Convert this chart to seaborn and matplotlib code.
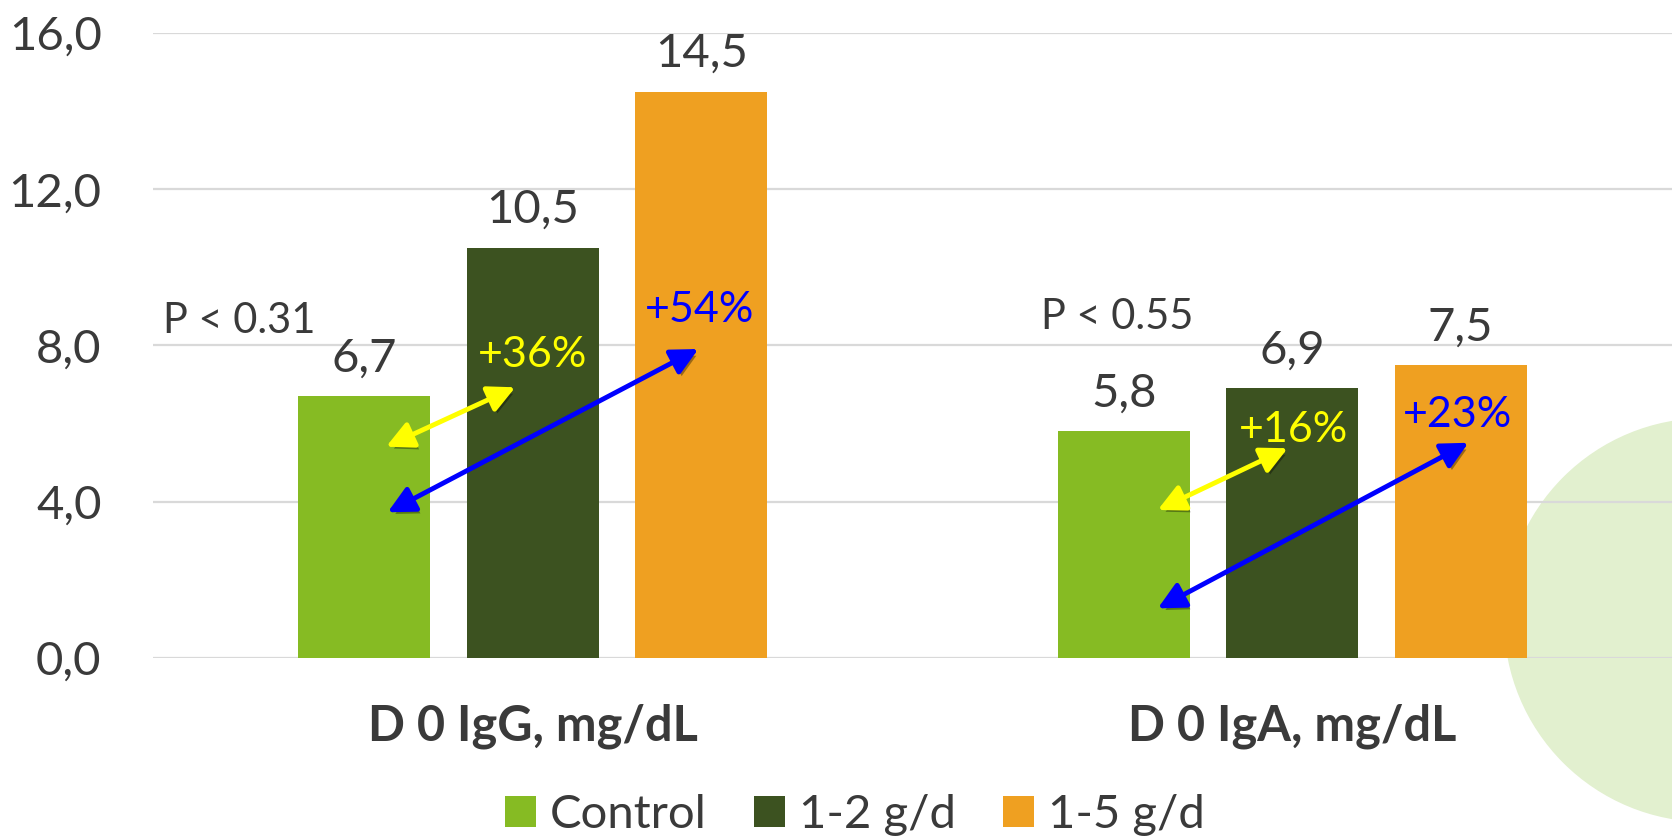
import numpy as np
import pandas as pd
import seaborn as sns
import matplotlib
matplotlib.use("Agg")
import matplotlib.pyplot as plt
from matplotlib.patches import Circle
from matplotlib.transforms import IdentityTransform
import matplotlib.patheffects as pe

# ---------------- data ----------------
categories = ["D 0 IgG, mg/dL", "D 0 IgA, mg/dL"]
groups = ["Control", "1-2 g/d", "1-5 g/d"]
control = [6.7, 5.8]
dose_1_2 = [10.5, 6.9]
dose_1_5 = [14.5, 7.5]
yticks = [0, 4, 8, 12, 16]
p_labels = ["P < 0.31", "P < 0.55"]
yellow_labels = ["+36%", "+16%"]
blue_labels = ["+54%", "+23%"]

# annotation anchors in data units (category index offset, value)
p_pos = [(-0.487, 8.32), (0.669, 8.42)]
yellow_text_pos = [(0.0, 7.45), (1.002, 5.53)]
blue_text_pos = [(0.219, 8.60), (1.217, 5.91)]
yellow_arrows = [((-0.193, 5.41), (-0.023, 6.93)), ((0.823, 3.79), (0.994, 5.37))]
blue_arrows = [((-0.191, 3.73), (0.218, 7.91)), ((0.823, 1.27), (1.232, 5.51))]

colors = ["#86BB23", "#3C5220", "#EFA021"]
text_color = "#3A3A3A"

df = pd.DataFrame({
    "category": categories * 3,
    "group": [g for g in groups for _ in categories],
    "value": control + dose_1_2 + dose_1_5,
})

sns.set_theme(style="white")
plt.rcParams["font.family"] = ["Lato", "DejaVu Sans"]

W, H = 1672, 838
fig = plt.figure(figsize=(W / 100, H / 100), dpi=100)
fig.patch.set_facecolor("white")

# decorative circle behind the plot
fig.add_artist(Circle((1706, H - 620), 202, transform=IdentityTransform(),
                      facecolor="#E2F0CF", edgecolor="none", zorder=-1))

ax = fig.add_axes([153 / W, 1 - 658 / H, 1 - 153 / W, (658 - 33) / H])
ax.set_facecolor("none")

sns.barplot(data=df, x="category", y="value", hue="group", hue_order=groups,
            order=categories, palette=colors, width=0.665, gap=0.215,
            saturation=1, linewidth=0, ax=ax, errorbar=None)

ax.set_xlim(-0.5, 1.5)
ax.set_ylim(0, 16)
ax.set_yticks(yticks)
ax.set_yticklabels([f"{t:.1f}".replace(".", ",") for t in yticks])
ax.set_axisbelow(True)
ax.yaxis.grid(True, color="#D9D9D9", lw=1.6)
ax.xaxis.grid(False)
for s in ax.spines.values():
    s.set_visible(False)
ax.tick_params(axis="y", length=0, labelsize=34, labelcolor=text_color, pad=37)
ax.tick_params(axis="x", length=0, labelsize=35, labelcolor=text_color, pad=33)
for lbl in ax.get_xticklabels():
    lbl.set_fontweight("bold")
ax.set_xlabel("")
ax.set_ylabel("")

# value labels
for cont in ax.containers:
    vals = cont.datavalues
    ax.bar_label(cont, labels=[f"{v:.1f}".replace(".", ",") for v in vals],
                 padding=12, fontsize=34, color=text_color)

# P-values
for txt, (x, y) in zip(p_labels, p_pos):
    ax.text(x, y, txt, fontsize=30, color=text_color, ha="left", va="baseline")

# percentage texts
for txt, (x, y) in zip(yellow_labels, yellow_text_pos):
    ax.text(x, y, txt, fontsize=31, color="#FFFF00", ha="center", va="baseline", zorder=6)
for txt, (x, y) in zip(blue_labels, blue_text_pos):
    ax.text(x, y, txt, fontsize=31, color="#0000FF", ha="center", va="baseline", zorder=6)

# arrows
shadow = [pe.withSimplePatchShadow(offset=(2, -3), shadow_rgbFace="black", alpha=0.35)]
for arrows, col in ((yellow_arrows, "#FFFF00"), (blue_arrows, "#0000FF")):
    for (start, end) in arrows:
        ann = ax.annotate("", xy=end, xytext=start,
                          arrowprops=dict(arrowstyle="<|-|>,head_length=0.9,head_width=0.45",
                                          color=col, lw=3.5, shrinkA=0, shrinkB=0,
                                          mutation_scale=18),
                          zorder=5)
        ann.arrow_patch.set_path_effects(shadow)

# legend
handles, labels = ax.get_legend_handles_labels()
if ax.get_legend() is not None:
    ax.get_legend().remove()
fig.legend(handles, labels, loc="center", bbox_to_anchor=(855 / W, 1 - 815 / H),
           ncol=3, frameon=False, fontsize=34, handlelength=0.65, handleheight=0.65,
           handletextpad=0.3, columnspacing=1.0, labelcolor=text_color)

fig.savefig("out.png", dpi=100, facecolor="white")
